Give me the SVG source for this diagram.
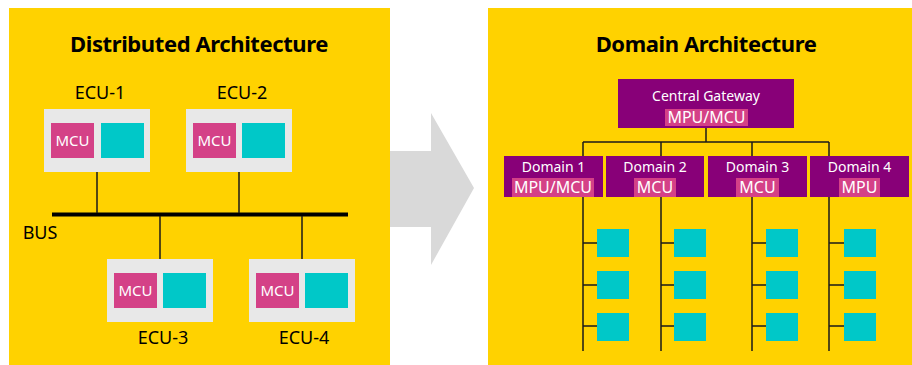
<svg xmlns="http://www.w3.org/2000/svg" width="912" height="365" viewBox="0 0 912 365">
  <style>
    .panel { fill: #FFD200; }
    .title { font-family: "Noto Sans", "Open Sans", sans-serif; font-weight: bold; font-size: 22px; letter-spacing: -0.4px; fill: #000; text-anchor: middle; }
    .lbl { font-family: "Noto Sans", "Open Sans", sans-serif; font-size: 18px; fill: #000; text-anchor: middle; }
    .ecu { fill: #E8E8E8; }
    .mcu { fill: #D44187; }
    .io { fill: #00C8C8; }
    .dom { fill: #880078; }
    .wtxt { font-family: "Noto Sans", "Open Sans", sans-serif; font-size: 14px; fill: #FFFFFF; text-anchor: middle; }
    .wmcu { font-family: "Noto Sans", "Open Sans", sans-serif; font-size: 15px; fill: #FFFFFF; text-anchor: middle; }
    .wbig { font-family: "Noto Sans", "Open Sans", sans-serif; font-size: 16px; fill: #FFFFFF; text-anchor: middle; }
    .wire { stroke: #1a1a1a; stroke-width: 1.5; fill: none; }
    .bus { stroke: #000; stroke-width: 4; }
  </style>
  <rect width="912" height="365" fill="#FFFFFF"/>

  <!-- transition arrow between the two panels -->
  <polygon id="arrow" points="380,151 431,151 431,113 474,188 431,265 431,227 380,227" fill="#D9D9D9"/>

  <!-- distributed panel -->
  <g id="panel-distributed">
    <rect class="panel" x="9" y="8" width="381" height="357"/>
    <text class="title" x="199" y="52">Distributed Architecture</text>
    <text class="lbl" x="40" y="239">BUS</text>
  </g>

  <!-- domain panel -->
  <g id="panel-domain">
    <rect class="panel" x="488" y="8" width="424" height="357"/>
    <text class="title" x="706" y="52">Domain Architecture</text>
  </g>

  <!-- connectors -->
  <g id="connectors">
    <line class="bus" x1="52" y1="214.5" x2="348" y2="214.5"/>
    <line class="wire" x1="97" y1="172" x2="97" y2="213"/>
    <line class="wire" x1="239" y1="172" x2="239" y2="213"/>
    <line class="wire" x1="160" y1="216" x2="160" y2="259"/>
    <line class="wire" x1="302" y1="216" x2="302" y2="259"/>

    <line class="wire" x1="706" y1="128" x2="706" y2="142"/>
    <line class="wire" x1="583" y1="142" x2="829" y2="142"/>
    <line class="wire" x1="583" y1="142" x2="583" y2="156"/>
    <line class="wire" x1="661" y1="142" x2="661" y2="156"/>
    <line class="wire" x1="752" y1="142" x2="752" y2="156"/>
    <line class="wire" x1="829" y1="142" x2="829" y2="156"/>

    <path class="wire" d="M583,197 V351 M583,243 H597 M583,285 H597 M583,326 H597"/>
    <path class="wire" d="M661,197 V351 M661,243 H674 M661,285 H674 M661,326 H674"/>
    <path class="wire" d="M752,197 V351 M752,243 H766 M752,285 H766 M752,326 H766"/>
    <path class="wire" d="M829,197 V351 M829,243 H844 M829,285 H844 M829,326 H844"/>
  </g>

  <!-- ECUs on the shared bus -->
  <g id="ecu-1">
    <text class="lbl" x="100" y="99">ECU-1</text>
    <rect class="ecu" x="44" y="109" width="106" height="63"/>
    <rect class="mcu" x="51" y="123" width="43" height="35"/>
    <text class="wmcu" x="72.5" y="146">MCU</text>
    <rect class="io" x="101" y="123" width="43" height="35"/>
  </g>
  <g id="ecu-2">
    <text class="lbl" x="242" y="99">ECU-2</text>
    <rect class="ecu" x="186" y="109" width="106" height="63"/>
    <rect class="mcu" x="193" y="123" width="43" height="35"/>
    <text class="wmcu" x="214.5" y="146">MCU</text>
    <rect class="io" x="242" y="123" width="43" height="35"/>
  </g>
  <g id="ecu-3">
    <rect class="ecu" x="107" y="259" width="106" height="63"/>
    <rect class="mcu" x="114" y="273" width="43" height="35"/>
    <text class="wmcu" x="135.5" y="296">MCU</text>
    <rect class="io" x="163" y="273" width="43" height="35"/>
    <text class="lbl" x="163" y="344">ECU-3</text>
  </g>
  <g id="ecu-4">
    <rect class="ecu" x="249" y="259" width="106" height="63"/>
    <rect class="mcu" x="256" y="273" width="43" height="35"/>
    <text class="wmcu" x="277.5" y="296">MCU</text>
    <rect class="io" x="305" y="273" width="43" height="35"/>
    <text class="lbl" x="304" y="344">ECU-4</text>
  </g>

  <!-- central gateway -->
  <g id="gateway">
    <rect class="dom" x="618" y="79" width="176" height="49"/>
    <text class="wtxt" x="706" y="101">Central Gateway</text>
    <rect class="mcu" x="665" y="109" width="83" height="17"/>
    <text class="wbig" x="706.5" y="123">MPU/MCU</text>
  </g>

  <!-- domain controllers -->
  <g id="domain-1">
    <rect class="dom" x="504" y="156" width="99" height="41"/>
    <text class="wtxt" x="553.5" y="172">Domain 1</text>
    <rect class="mcu" x="512" y="178" width="82" height="19"/>
    <text class="wbig" x="553" y="193">MPU/MCU</text>
  </g>
  <g id="domain-2">
    <rect class="dom" x="606" y="156" width="98" height="41"/>
    <text class="wtxt" x="655" y="172">Domain 2</text>
    <rect class="mcu" x="634" y="178" width="42" height="19"/>
    <text class="wbig" x="655" y="193">MCU</text>
  </g>
  <g id="domain-3">
    <rect class="dom" x="708" y="156" width="99" height="41"/>
    <text class="wtxt" x="757.5" y="172">Domain 3</text>
    <rect class="mcu" x="736" y="178" width="43" height="19"/>
    <text class="wbig" x="757.5" y="193">MCU</text>
  </g>
  <g id="domain-4">
    <rect class="dom" x="810" y="156" width="99" height="41"/>
    <text class="wtxt" x="859.5" y="172">Domain 4</text>
    <rect class="mcu" x="839" y="178" width="41" height="19"/>
    <text class="wbig" x="859.5" y="193">MPU</text>
  </g>

  <!-- end nodes per domain -->
  <g id="nodes-domain-1">
    <rect class="io" x="597" y="229" width="32" height="28"/>
    <rect class="io" x="597" y="271" width="32" height="28"/>
    <rect class="io" x="597" y="313" width="32" height="28"/>
  </g>
  <g id="nodes-domain-2">
    <rect class="io" x="674" y="229" width="32" height="28"/>
    <rect class="io" x="674" y="271" width="32" height="28"/>
    <rect class="io" x="674" y="313" width="32" height="28"/>
  </g>
  <g id="nodes-domain-3">
    <rect class="io" x="766" y="229" width="32" height="28"/>
    <rect class="io" x="766" y="271" width="32" height="28"/>
    <rect class="io" x="766" y="313" width="32" height="28"/>
  </g>
  <g id="nodes-domain-4">
    <rect class="io" x="844" y="229" width="32" height="28"/>
    <rect class="io" x="844" y="271" width="32" height="28"/>
    <rect class="io" x="844" y="313" width="32" height="28"/>
  </g>
</svg>
